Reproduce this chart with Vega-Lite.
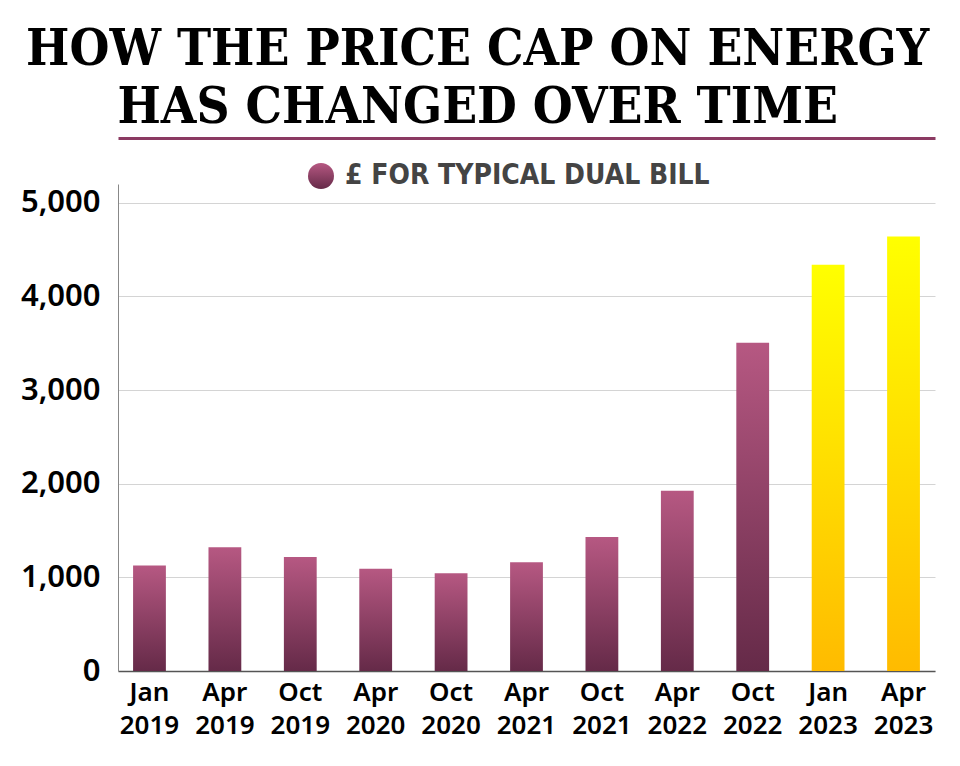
{
  "$schema": "https://vega.github.io/schema/vega-lite/v6.json",
  "width": 817,
  "height": 487,
  "padding": {"left": 20, "top": 24, "right": 5, "bottom": 5},
  "background": "#ffffff",
  "title": {
    "text": ["HOW THE PRICE CAP ON ENERGY", "HAS CHANGED OVER TIME"],
    "font": "DejaVu Serif Condensed",
    "fontWeight": "bold",
    "fontSize": 51,
    "lineHeight": 58,
    "color": "#000000",
    "anchor": "middle",
    "frame": "bounds",
    "offset": 4
  },
  "data": {
    "values": [
      {"period": "Jan 2019", "bill": 1126, "group": "actual", "series": "£ FOR TYPICAL DUAL BILL"},
      {"period": "Apr 2019", "bill": 1321, "group": "actual", "series": "£ FOR TYPICAL DUAL BILL"},
      {"period": "Oct 2019", "bill": 1218, "group": "actual", "series": "£ FOR TYPICAL DUAL BILL"},
      {"period": "Apr 2020", "bill": 1092, "group": "actual", "series": "£ FOR TYPICAL DUAL BILL"},
      {"period": "Oct 2020", "bill": 1044, "group": "actual", "series": "£ FOR TYPICAL DUAL BILL"},
      {"period": "Apr 2021", "bill": 1160, "group": "actual", "series": "£ FOR TYPICAL DUAL BILL"},
      {"period": "Oct 2021", "bill": 1430, "group": "actual", "series": "£ FOR TYPICAL DUAL BILL"},
      {"period": "Apr 2022", "bill": 1925, "group": "actual", "series": "£ FOR TYPICAL DUAL BILL"},
      {"period": "Oct 2022", "bill": 3506, "group": "actual", "series": "£ FOR TYPICAL DUAL BILL"},
      {"period": "Jan 2023", "bill": 4338, "group": "forecast", "series": "£ FOR TYPICAL DUAL BILL"},
      {"period": "Apr 2023", "bill": 4640, "group": "forecast", "series": "£ FOR TYPICAL DUAL BILL"}
    ]
  },
  "encoding": {
    "x": {
      "field": "period",
      "type": "nominal",
      "sort": null,
      "scale": {"paddingInner": 0.565, "paddingOuter": 0.2},
      "axis": {
        "title": null,
        "labelAngle": 0,
        "labelExpr": "split(datum.label, ' ')",
        "labelFont": "Noto Sans",
        "labelFontWeight": 600,
        "labelFontSize": 26,
        "labelLineHeight": 33,
        "labelColor": "#000000",
        "labelPadding": 8,
        "labelOverlap": false,
        "ticks": false,
        "domainColor": "#555555",
        "domainWidth": 1.5,
        "grid": false
      }
    },
    "y": {
      "field": "bill",
      "type": "quantitative",
      "scale": {"domain": [0, 5200], "nice": false},
      "axis": {
        "title": null,
        "values": [0, 1000, 2000, 3000, 4000, 5000],
        "format": ",d",
        "labelFont": "Noto Sans",
        "labelFontWeight": 600,
        "labelFontSize": 31,
        "labelColor": "#000000",
        "labelPadding": 18,
        "ticks": false,
        "domainColor": "#888888",
        "domainWidth": 1,
        "gridColor": "#d4d4d4",
        "gridWidth": 1
      }
    }
  },
  "layer": [
    {
      "transform": [{"filter": "datum.group === 'actual'"}],
      "mark": {
        "type": "bar",
        "color": {
          "gradient": "linear",
          "x1": 0, "y1": 0, "x2": 0, "y2": 1,
          "stops": [
            {"offset": 0, "color": "#b65882"},
            {"offset": 1, "color": "#652a48"}
          ]
        }
      },
      "encoding": {
        "opacity": {
          "field": "series",
          "type": "nominal",
          "scale": {"type": "ordinal", "range": [1]},
          "legend": {
            "title": null,
            "orient": "none",
            "legendX": 189,
            "legendY": -22,
            "symbolType": "circle",
            "symbolSize": 676,
            "symbolFillColor": "#9c4870",
            "symbolStrokeWidth": 0,
            "labelFont": "DejaVu Sans Condensed",
            "labelFontWeight": "bold",
            "labelFontSize": 28,
            "labelColor": "#444444",
            "labelOffset": 10,
            "labelLimit": 600
          }
        }
      }
    },
    {
      "transform": [{"filter": "datum.group === 'forecast'"}],
      "mark": {
        "type": "bar",
        "color": {
          "gradient": "linear",
          "x1": 0, "y1": 0, "x2": 0, "y2": 1,
          "stops": [
            {"offset": 0, "color": "#ffff00"},
            {"offset": 1, "color": "#ffbb00"}
          ]
        }
      },
      "encoding": {
        "x": {
          "field": "period",
          "type": "nominal",
          "sort": null,
          "axis": {
            "orient": "top",
            "offset": 46,
            "title": null,
            "labels": false,
            "ticks": false,
            "grid": false,
            "domainColor": "#8b3a62",
            "domainWidth": 3
          }
        }
      }
    }
  ],
  "resolve": {"axis": {"x": "independent"}},
  "config": {"view": {"stroke": null}}
}
